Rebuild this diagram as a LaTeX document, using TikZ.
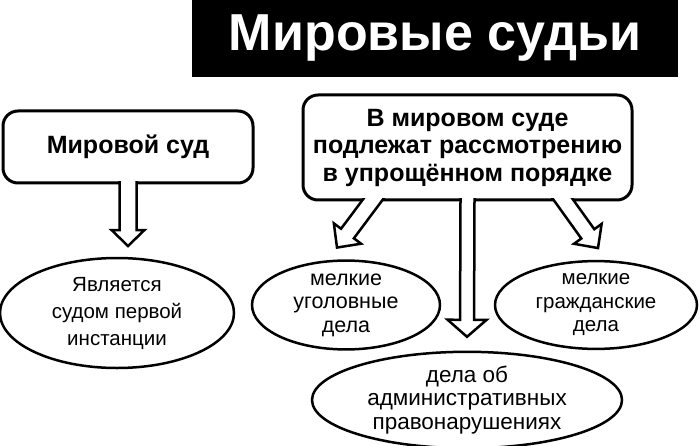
\documentclass[tikz,border=0pt]{standalone}
\usepackage{fontspec}
\setmainfont{Liberation Sans}
\usetikzlibrary{positioning,calc,shapes.geometric}

\tikzset{
  titlebox/.style={fill=black, text=white, inner sep=0pt, outer sep=0pt,
    minimum width=486pt, minimum height=77pt,
    font=\bfseries\fontsize{52}{60}\selectfont},
  headbox/.style={draw, line width=3pt, fill=white, rounded corners=15pt,
    inner sep=0pt, outer sep=0pt, align=center,
    font=\bfseries\fontsize{25}{27.5}\selectfont},
  oval/.style={draw, ellipse, line width=2.5pt, inner sep=0pt, outer sep=0pt,
    align=center, font=\fontsize{21.5}{23.5}\selectfont},
  arrowbody/.style={draw, fill=white, line width=2.5pt, line join=miter}
}

% hollow block arrow: box, border point, tip, shaft half width, head half width, head length
\newcommand{\bigarrow}[6]{%
  \begin{scope}
    \clip ($(#1.south west)+(-80,-1.5)$) rectangle ($(#1.south east)+(80,200)$);
    \path (#2) coordinate (b) (#3) coordinate (t);
    \path ($(t)!1.3!(b)$) coordinate (s) ($(t)!#6!(b)$) coordinate (h);
    \filldraw[arrowbody] ($(s)!#4!90:(t)$) -- ($(h)!#4!90:(t)$) -- ($(h)!#5!90:(t)$)
      -- (t) -- ($(h)!#5!-90:(t)$) -- ($(h)!#4!-90:(t)$) -- ($(s)!#4!-90:(t)$) -- cycle;
  \end{scope}}

\begin{document}
\begin{tikzpicture}[x=1pt, y=-1pt]
  \useasboundingbox (0,0) rectangle (700,446);

  % heading
  \node[titlebox] (title) at (435,38.5) {Мировые судьи};

  % boxes
  \node[headbox, minimum width=250pt, minimum height=72pt] (court) at (128,147) {Мировой суд};
  \node[headbox, minimum width=329pt, minimum height=105pt] (review) at (467.5,147.5)
    {В мировом суде\\подлежат рассмотрению\\в упрощённом порядке};

  % ellipses
  \node[oval, minimum width=234pt, minimum height=110pt, font=\fontsize{20.5}{27}\selectfont]
    (first) at (117,313) {Является\\судом первой\\инстанции};
  \node[oval, minimum width=188pt, minimum height=84pt] (criminal) at (346,305) {мелкие\\уголовные\\дела};
  \node[oval, minimum width=202pt, minimum height=84pt, font=\fontsize{20.5}{23.5}\selectfont]
    (civil) at (596,305) {мелкие\\гражданские\\дела};
  \node[oval, minimum width=310pt, minimum height=86pt, font=\fontsize{22.5}{23.5}\selectfont]
    (admin) at (467,400) {дела об\\административных\\правонарушениях};

  % arrows
  \bigarrow{court}{court.south}{$(court.south |- first.north)+(0,-12)$}{8.5pt}{16.5pt}{16pt}
  \bigarrow{review}{review.south}{$(admin.north)+(0,-15)$}{7pt}{19.5pt}{17pt}
  \bigarrow{review}{$(review.south)+(-95,0)$}{$(criminal.north)+(-9,-13)$}{8pt}{17pt}{17.5pt}
  \bigarrow{review}{$(review.south)+(96,0)$}{$(civil.north)+(2,-13)$}{8pt}{17pt}{17.5pt}
\end{tikzpicture}
\end{document}
